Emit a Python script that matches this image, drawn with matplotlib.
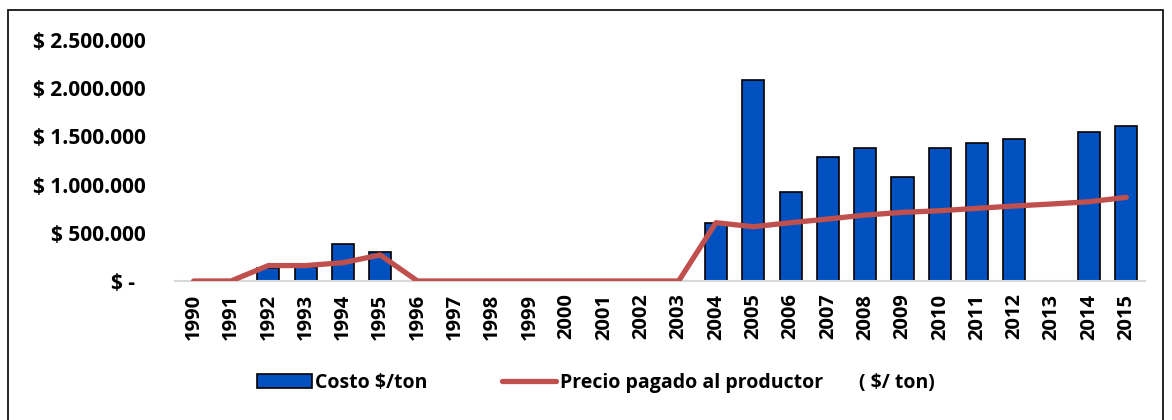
import numpy as np
import matplotlib
matplotlib.use("Agg")
import matplotlib.pyplot as plt
from matplotlib.patches import Rectangle

plt.rcParams['font.family'] = ['Open Sans', 'DejaVu Sans']

# data
years = [str(y) for y in range(1990, 2016)]
costo = [0, 0, 140000, 150000, 387000, 298000, 0, 0, 0, 0, 0, 0, 0, 0,
         605000, 2090000, 920000, 1289000, 1383000, 1082000, 1383000,
         1428000, 1476000, 0, 1542000, 1608000]
precio = [0, 0, 160000, 160000, 190000, 270000, 0, 0, 0, 0, 0, 0, 0, 0,
          605000, 563000, 605000, 643000, 684000, 712000, 729000,
          754000, 778000, 799000, 822000, 868000]
yticks = [0, 500000, 1000000, 1500000, 2000000, 2500000]
ytick_labels = ["$ -  ", "$ 500.000", "$ 1.000.000", "$ 1.500.000", "$ 2.000.000", "$ 2.500.000"]

fig = plt.figure(figsize=(11.72, 4.2), dpi=100)
ax = fig.add_axes([175/1172, 1 - 281/420, (1145 - 175)/1172, (281 - 40)/420])

x = np.arange(len(years))
bars = ax.bar(x, costo, width=0.59, color="#0050C0", edgecolor="black", linewidth=1.2,
              label="Costo $/ton", zorder=2)
line, = ax.plot(x, precio, color="#C0504D", linewidth=3.8, solid_capstyle="round",
                label="Precio pagado al productor       ( $/ ton)", zorder=3)

ax.set_xlim(-0.5, len(years) - 0.5)
ax.set_ylim(0, 2500000)
ax.set_yticks(yticks)
ax.set_yticklabels(ytick_labels, fontsize=15, fontweight="bold")
ax.set_xticks(x)
ax.set_xticklabels(years, rotation=90, fontsize=14.5, fontweight="bold")
ax.tick_params(axis="x", length=0, pad=9)
ax.tick_params(axis="y", length=0, pad=21)

for s in ["top", "right", "left"]:
    ax.spines[s].set_visible(False)
ax.spines["bottom"].set_color("#D9D9D9")
ax.spines["bottom"].set_linewidth(1.5)

fig.legend(handles=[bars, line], loc="center", bbox_to_anchor=(596/1172, 1 - 383/420), ncol=2,
           frameon=False, prop={"weight": "bold", "size": 14},
           handlelength=2.8, handletextpad=0.2, columnspacing=3.8)

# outer chart frame
fig.patches.append(Rectangle((8/1172, -0.01), (1163 - 8)/1172, 1.01 - 10/420,
                             transform=fig.transFigure, fill=False,
                             edgecolor="black", linewidth=1.2))

fig.savefig("out.png", dpi=100)
